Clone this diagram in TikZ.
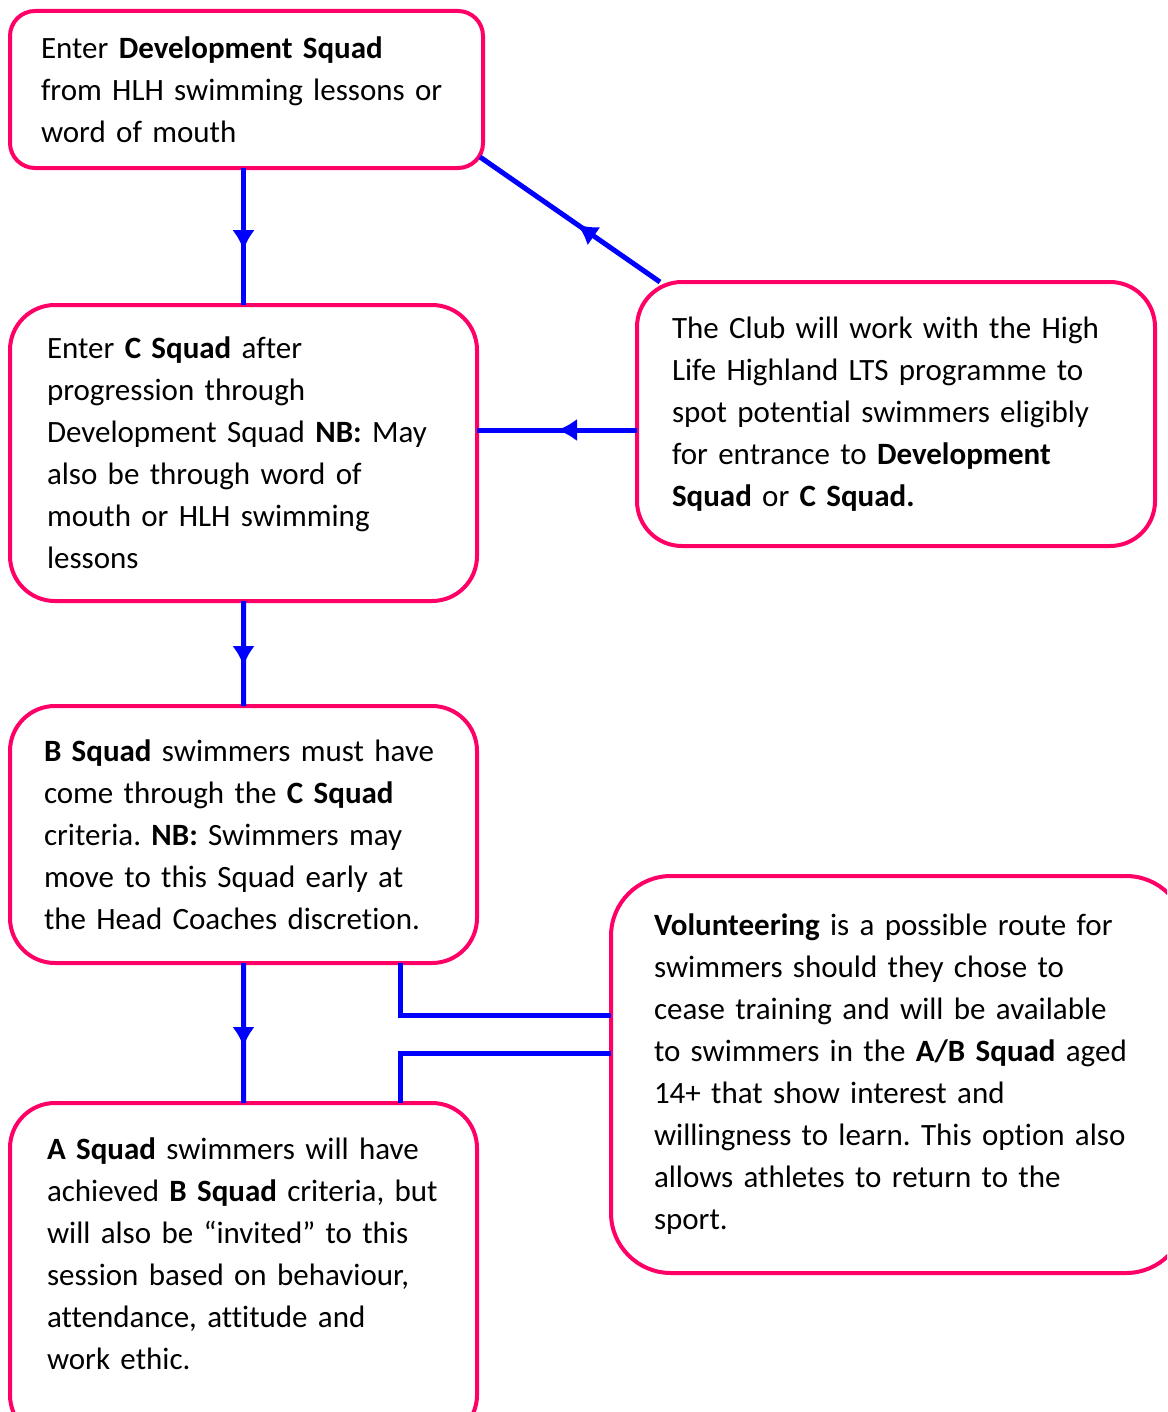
\documentclass[tikz,border=0pt]{standalone}
\usepackage{fontspec}
\setmainfont{Carlito}[Ligatures=NoCommon]
\usepackage{tikz}
\usetikzlibrary{arrows.meta,positioning,calc,decorations.markings}
\frenchspacing
\definecolor{rosa}{HTML}{FF0066}
\definecolor{azul}{HTML}{0000FF}
\tikzstyle{squadbox} = [draw=rosa, line width=1.6pt, rectangle, rounded corners=18pt, anchor=north west, align=left, inner ysep=0pt, outer sep=0pt, font=\fontsize{12.4pt}{16.8pt}\selectfont]
\tikzstyle{enlace} = [draw=azul, line width=2pt]
\tikzset{midarrow/.style={postaction={decorate}, decoration={markings, mark=at position #1 with {\arrow{Latex[length=8pt,width=9pt]}}}}}

\begin{document}
\begin{tikzpicture}[x=0.4pt,y=-0.4pt]
\useasboundingbox (0,0) rectangle (1167,1412);
\clip (0,0) rectangle (1167,1412);
% squads
\node [squadbox, rounded corners=10pt, inner xsep=12.4pt, text width=164.4pt, minimum width=189.2pt, minimum height=62.8pt] (dev) at (10,11) {%
  Enter \textbf{Development Squad}\\ from HLH swimming lessons or\\ word of mouth};
\node [squadbox, inner xsep=14.8pt, text width=157.2pt, minimum width=186.8pt, minimum height=118.4pt] (csq) at (10,305) {%
  Enter \textbf{C Squad} after\\ progression through\\ Development Squad \textbf{NB:} May\\ also be through word of\\ mouth or HLH swimming\\ lessons};
\node [squadbox, inner xsep=14pt, text width=179.2pt, minimum width=207.2pt, minimum height=105.6pt] (club) at (637,282) {%
  The Club will work with the High\\ Life Highland LTS programme to\\ spot potential swimmers eligibly\\ for entrance to \textbf{Development}\\ \textbf{Squad} or \textbf{C Squad.}};
\node [squadbox, inner xsep=13.6pt, text width=159.6pt, minimum width=186.8pt, minimum height=102.8pt] (bsq) at (10,706) {%
  \textbf{B Squad} swimmers must have\\ come through the \textbf{C Squad}\\ criteria. \textbf{NB:} Swimmers may\\ move to this Squad early at\\ the Head Coaches discretion.};
\node [squadbox, inner xsep=14.8pt, text width=157.2pt, minimum width=186.8pt, minimum height=134.8pt] (asq) at (10,1103) {%
  \textbf{A Squad} swimmers will have\\ achieved \textbf{B Squad} criteria, but\\ will also be “invited” to this\\ session based on behaviour,\\ attendance, attitude and\\ work ethic.\\[-2.4pt]\mbox{}};
\node [squadbox, rounded corners=24pt, inner xsep=17.2pt, text width=195.6pt, minimum width=230pt, minimum height=158.8pt] (vol) at (611,876) {%
  \textbf{Volunteering} is a possible route for\\ swimmers should they chose to\\ cease training and will be available\\ to swimmers in the \textbf{A/B Squad} aged\\ 14+ that show interest and\\ willingness to learn. This option also\\ allows athletes to return to the\\ sport.};
% connectors
\draw [enlace, midarrow=0.6] (dev.south -| csq.north) -- (csq.north);
\draw [enlace, midarrow=0.62] (csq.south) -- (bsq.north);
\draw [enlace, midarrow=0.6] (bsq.south) -- (asq.north);
\draw [enlace, midarrow=0.46] ([xshift=9.2pt]club.north west) -- ([xshift=-1.2pt,yshift=4.4pt]dev.south east);
\coordinate (h1) at ([yshift=-6.4pt]club.west);
\draw [enlace, midarrow=0.5] (h1) -- (h1 -| csq.east);
\coordinate (v1) at ([yshift=23.8pt]vol.west);
\coordinate (v2) at ([yshift=8.6pt]vol.west);
\coordinate (bx) at ([xshift=62.6pt]bsq.south);
\coordinate (ax) at ([xshift=62.6pt]asq.north);
\draw [enlace] (bx) |- (v1);
\draw [enlace] (v2) -| (ax);
\end{tikzpicture}
\end{document}
